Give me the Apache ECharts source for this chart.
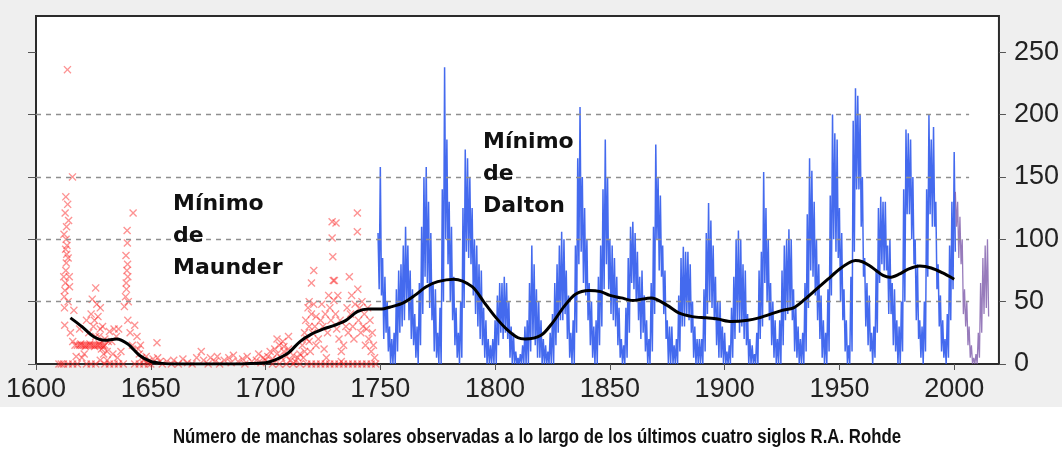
<!DOCTYPE html>
<html><head><meta charset="utf-8">
<script src="https://cdn.jsdelivr.net/npm/echarts@6/dist/echarts.min.js"></script>
<style>
html,body{margin:0;padding:0;}
body{width:1062px;height:451px;background:linear-gradient(#efefef 0,#efefef 407px,#ffffff 407px);}
#c{width:1062px;height:451px;}
</style></head>
<body><div id="c"></div>
<script>
// ---- data ----
const xTicks = [1600,1650,1700,1750,1800,1850,1900,1950,2000];
const yTicks = [0,50,100,150,200,250];
const gridLevels = [50,100,150,200];
const blueStart = 1749;
const blueHigh = [105,158,85,70,50,30,20,25,60,75,80,95,110,95,75,60,40,30,65,110,
150,158,130,105,65,60,25,45,140,238,180,130,110,70,45,25,50,125,172,165,
150,125,100,95,80,75,45,35,20,15,20,35,55,65,65,70,65,50,30,25,
10,5,8,15,30,35,65,95,80,60,50,35,20,15,10,25,40,65,80,95,
106,100,75,55,25,35,95,165,206,150,125,100,65,50,30,35,70,95,140,180,
150,100,95,85,70,45,20,15,45,85,110,114,105,90,70,75,55,35,20,65,
110,176,150,135,95,75,35,30,30,15,20,55,85,94,90,90,80,50,30,20,
20,20,60,105,129,115,95,70,50,50,30,25,10,15,45,70,100,107,100,80,
75,40,20,15,8,25,75,90,154,125,100,65,50,35,20,35,75,95,100,108,
100,60,45,30,20,25,65,120,165,155,130,100,80,55,35,25,60,135,200,185,
180,125,105,60,35,15,70,195,221,215,200,150,85,65,55,25,30,75,125,134,
130,130,95,100,65,60,35,30,50,140,188,185,180,150,100,80,35,30,50,140,
200,180,190,130,80,55,35,20,40,95,130,170];
const blueLow = [60,55,20,25,10,0,0,0,10,25,30,35,50,35,20,15,5,0,15,40,
70,65,45,35,10,5,0,0,50,100,80,50,35,15,5,0,5,45,90,85,
80,55,40,30,20,15,5,0,0,0,0,0,15,25,20,25,20,5,0,0,
0,0,0,0,0,0,10,20,15,5,5,0,0,0,0,0,0,15,25,35,
35,40,20,5,0,0,25,80,90,65,55,35,15,5,0,0,15,30,60,80,
60,40,35,30,15,5,0,0,5,25,65,60,50,35,20,25,10,0,0,10,
40,100,75,70,40,20,0,0,0,0,0,10,30,30,40,35,25,5,0,0,
0,0,10,40,50,45,35,15,5,5,0,0,0,0,5,20,35,25,30,20,
15,0,0,0,0,0,20,30,65,50,35,15,5,0,0,0,15,35,40,45,
35,10,5,0,0,0,10,45,75,70,55,35,20,5,0,0,10,55,100,90,
85,50,35,10,0,0,10,90,140,140,110,70,30,15,10,0,5,25,65,80,
75,75,40,40,15,10,0,0,10,50,120,120,100,80,35,20,5,0,10,70,
120,110,110,60,30,10,5,0,5,35,60,90];
const purpleStart = 2000.5;
const purpleHigh = [138,130,118,100,60,50,30,15,5,8,25,65,85,95,100];
const purpleLow  = [110,85,80,40,30,15,5,0,0,0,5,25,40,45,38];
const smoothYears  = [1615,1620,1625,1630,1635,1640,1645,1650,1655,1660,1670,1680,1690,1695,1700,1705,1710,1715,1720,1725,1730,1735,1740,1745,1750,1755,1760,1765,1770,1775,1782,1790,1795,1800,1805,1810,1813,1820,1825,1830,1835,1841,1846,1850,1855,1860,1868,1875,1880,1886,1892,1897,1903,1910,1915,1920,1925,1930,1935,1940,1945,1950,1954,1957,1960,1963,1966,1969,1972,1976,1980,1985,1990,1995,2000];
const smoothValues = [37,30,22,19,20,16,7,2,0.5,0,0,0,0,0.5,1,4,9,18,24,28,31,35,42,44,44,46,49,55,62,66,68,62,50,38,28,21,20,23,33,46,56,59,58,55,53,51,53,47,41,38,37,36,34,35,37,40,43,45,52,60,68,76,81,83,82,79,75,71,69.5,72,76,78.5,77,73,68];
const redPoints = [
[1610,0],[1611,0],[1612,0],[1612.5,31],[1612.3,54],[1612.6,59],[1612.8,65],[1613,75],[1613.2,81],[1612.9,92],[1613.1,100],[1613.3,110],[1612.7,121],[1613,134],[1613.7,236],[1615.9,150],[1616.5,43],[1614,85],[1614.5,70],[1613.5,95],[1614.2,115],[1614,50],[1615,25],[1616,18],[1617,15],[1617.5,6],[1618,0],[1614,0],[1616,0],
[1612.4,45],[1613.4,88],[1612.2,104],[1613.8,128],[1614.6,62],[1612.1,70],
[1618,15],[1619,15],[1620,15],[1621,15],[1622,15],[1623,15],[1624,15],[1625,15],[1626,15],[1627,15],[1628,15],[1629,15],[1630,15],[1619.5,16],[1621.5,14],[1623.5,16],[1625.5,14],[1627.5,16],[1629.5,14],
[1619,28],[1620,5],[1621,8],[1622,35],[1623,25],[1624,40],[1625,30],[1626,61],[1626.5,48],[1627,38],[1627.5,22],[1628,28],[1628.5,12],[1629,30],[1630,20],[1631,10],[1632,26],[1633,18],[1634,28],[1635,22],[1636,28],[1637,10],[1624.5,52],[1625.5,35],[1626,22],[1628,45],[1629.5,8],[1631.5,18],[1633.5,8],[1635.5,5],[1622,0],[1624,0],[1626,0],[1630,0],[1632,0],[1634,0],[1636,0],[1638,0],[1628,3],[1631,3],
[1638.5,46],[1639,54],[1639.3,65],[1639.6,75],[1639.2,87],[1639.8,97],[1639.7,107],[1639.4,60],[1639.9,80],[1640,70],[1640.2,50],[1642.3,121],[1640,35],[1641,25],[1642,15],
[1643,31],[1644,22],[1644.5,12],[1645,8],[1646,5],[1645.5,15],[1647,3],[1648,6],[1649,2],[1650,0],[1651,4],[1652.7,17],[1653,5],[1654,2],[1643,0],[1645,0],[1647,0],[1649,0],
[1655,0],[1657,2],[1659,0],[1660,3],[1662,0],[1664,4],[1666,1],[1668,0],[1670,5],[1672,10],[1673,3],[1675,0],[1676,5],[1678,2],[1679,6],[1680,0],[1682,3],[1684,5],[1685,1],[1686,7],[1688,2],[1690,4],[1691,0],[1692,6],[1694,2],[1696,3],[1697,8],[1698,1],[1699,5],[1700,3],
[1701,6],[1702,10],[1703,4],[1704,12],[1705,8],[1706,15],[1707,5],[1707.5,18],[1708,10],[1709,6],[1710,12],[1711,3],[1712,7],[1713,2],[1714,5],[1715,8],[1703,0],[1706,0],[1709,0],[1712,0],[1715,0],[1705,20],[1708,14],[1710,22],
[1716,15],[1717,25],[1717.5,35],[1718,20],[1718.5,45],[1719,30],[1719,50],[1719.5,10],[1720,65],[1720,40],[1720.5,25],[1721,75],[1721,48],[1721.5,30],[1722,15],[1722,38],[1716.5,5],[1718,0],[1720,0],[1722,0],[1719,18],[1717,10],
[1723,20],[1724,35],[1724.5,48],[1725,30],[1725.5,12],[1726,40],[1727,25],[1727.5,55],[1728,45],[1728.5,35],[1729,114],[1729,101],[1729.3,86],[1729.5,67],[1729.8,51],[1730,67],[1730.7,113],[1730.5,40],[1731,28],[1731.5,55],[1732,20],[1732.5,35],[1733,10],[1724,0],[1726,0],[1728,0],[1730,0],[1732,0],[1726.5,5],[1733,2],
[1734,15],[1735,30],[1735.5,45],[1736,25],[1736.5,70],[1737,40],[1737.5,55],[1738,30],[1738.5,20],[1739,48],[1740,121],[1740,106],[1740.2,60],[1740.5,35],[1741,45],[1741.5,25],[1742,50],[1742.5,30],[1743,40],[1743.5,15],[1744,28],[1744.5,45],[1745,20],[1745.5,35],[1746,10],[1746.5,25],[1747,15],[1747.5,5],[1734,0],[1736,0],[1738,0],[1740,0],[1742,0],[1744,0],[1746,0],[1748,0]
];
const titleText = 'Número de manchas solares observadas a lo largo de los últimos cuatro siglos R.A. Rohde';
const maunderText = 'Mínimo\nde\nMaunder';
const daltonText = 'Mínimo\nde\nDalton';

// ---- build ----
function zigzag(start, hi, lo) {
  const out = [];
  for (let i = 0; i < hi.length; i++) {
    out.push([start + i, hi[i]]);
    out.push([start + i + 0.5, lo[i]]);
  }
  return out;
}
const blueData = zigzag(blueStart, blueHigh, blueLow);
const purpleData = zigzag(purpleStart, purpleHigh, purpleLow);
const smoothData = smoothYears.map((y, i) => [y, smoothValues[i]]);
const gridMarks = gridLevels.map(v => [{coord: [1600, v]}, {coord: [2006.5, v]}]);
const crossPath = 'path://M0,1.2L1.2,0L5,3.8L8.8,0L10,1.2L6.2,5L10,8.8L8.8,10L5,6.2L1.2,10L0,8.8L3.8,5Z';

const chart = echarts.init(document.getElementById('c'), null, {renderer: 'canvas'});
const labelFont = {fontFamily: 'Liberation Sans, Arial, sans-serif', fontSize: 27, color: '#222'};
const annFont = {fontFamily: 'DejaVu Sans', fontWeight: 'bold', fontSize: 22, lineHeight: 32, fill: '#111'};
chart.setOption({
  animation: false,
  backgroundColor: 'transparent',
  grid: {left: 36, right: 59, top: 16, bottom: 87, show: true, backgroundColor: '#ffffff', borderColor: '#2b2b2b', borderWidth: 2},
  xAxis: {
    type: 'value', min: 1600, max: 2019.5, interval: 50,
    axisLine: {show: false},
    axisTick: {show: true, length: 6, lineStyle: {color: '#555'}, customValues: xTicks},
    axisLabel: Object.assign({margin: 12, customValues: xTicks, formatter: v => String(v)}, labelFont),
    splitLine: {show: false}
  },
  yAxis: [{
    type: 'value', position: 'right', min: 0, max: 279, interval: 50,
    axisLine: {show: false},
    axisTick: {show: true, length: 7, lineStyle: {color: '#555'}, customValues: yTicks},
    axisLabel: Object.assign({margin: 15, customValues: yTicks}, labelFont),
    splitLine: {show: false}
  }, {
    type: 'value', position: 'left', min: 0, max: 279, interval: 50,
    axisLine: {show: false},
    axisTick: {show: true, length: 8, lineStyle: {color: '#555'}, customValues: yTicks},
    axisLabel: {show: false},
    splitLine: {show: false}
  }],
  series: [{
    type: 'line', data: [], symbol: 'none', silent: true,
    markLine: {silent: true, symbol: 'none', label: {show: false},
      lineStyle: {color: '#8f8f8f', type: [5, 5], width: 1.3}, data: gridMarks}
  }, {
    type: 'scatter', data: redPoints, symbol: crossPath, symbolSize: 8,
    itemStyle: {color: 'rgba(250,30,30,0.6)'}, silent: true, z: 3
  }, {
    type: 'line', data: blueData, symbol: 'none', silent: true, z: 4,
    lineStyle: {color: 'rgba(35,80,235,0.85)', width: 1.5}
  }, {
    type: 'line', data: purpleData, symbol: 'none', silent: true, z: 4,
    lineStyle: {color: 'rgba(125,90,170,0.8)', width: 1.3}
  }, {
    type: 'line', data: smoothData, symbol: 'none', smooth: 0.3, silent: true, z: 6,
    lineStyle: {color: '#000', width: 3}
  }],
  graphic: [
    {type: 'text', left: 173, top: 188, z: 100, style: Object.assign({text: maunderText}, annFont)},
    {type: 'text', left: 483, top: 126, z: 100, style: Object.assign({text: daltonText}, annFont)},
    {type: 'text', x: 537, y: 437, scaleX: 0.84, z: 100, style: {text: titleText, align: 'center', verticalAlign: 'middle',
      fontFamily: 'Liberation Sans, Arial, sans-serif', fontWeight: 'bold', fontSize: 20, fill: '#111'}}
  ]
});
</script>
</body></html>
